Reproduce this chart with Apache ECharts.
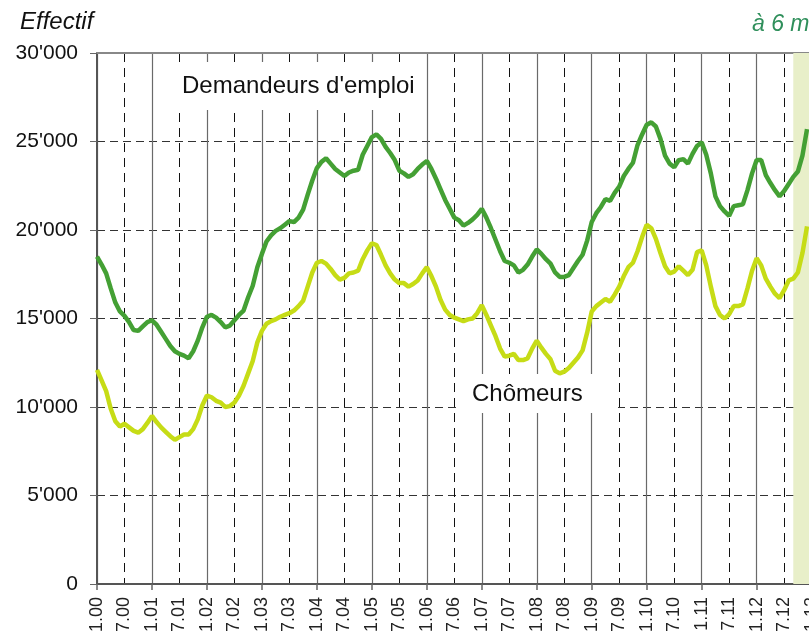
<!DOCTYPE html>
<html>
<head>
<meta charset="utf-8">
<script src="https://cdn.jsdelivr.net/npm/echarts@6/dist/echarts.min.js"></script>
<style>
    html, body { margin: 0; padding: 0; overflow: hidden; background: #fff; }
    .main { width: 900px; height: 700px; }
</style>
</head>
<body>
<div class="main"></div>
<script>
// années affichées sur l'axe (mois.année)
const years = ['00', '01', '02', '03', '04', '05', '06', '07', '08', '09', '10', '11', '12', '13'];
let months = [];
years.forEach(function (y) {
    for (let m = 1; m <= 12; m++) {
        months.push(m + '.' + y);
    }
});

// graduations de l'axe vertical
const yTicks = [0, 5000, 10000, 15000, 20000, 25000, 30000];

// Demandeurs d'emploi (1.00 -> 12.12)
const demandeurs = [
    18500, 18050, 17550, 16700, 15900, 15400, 15150, 14800, 14350, 14300, 14550, 14800,
    14900, 14650, 14250, 13850, 13450, 13150, 13000, 12900, 12750, 13150, 13750, 14500,
    15100, 15200, 15050, 14800, 14500, 14600, 14900, 15200, 15450, 16200, 16850, 17900,
    18650, 19350, 19700, 19950, 20100, 20300, 20500, 20450, 20700, 21150, 22000, 22800,
    23500, 23850, 24050, 23750, 23450, 23250, 23050, 23250, 23350, 23400, 24250, 24750,
    25250, 25400, 25150, 24700, 24350, 23950, 23350, 23200, 23000, 23150, 23450, 23700,
    23900, 23450, 22900, 22300, 21700, 21200, 20700, 20550, 20250, 20400, 20600, 20850,
    21200, 20700, 20100, 19450, 18800, 18250, 18150, 18000, 17600, 17750, 18050, 18500,
    18900, 18650, 18350, 18100, 17600, 17350, 17350, 17450, 17850, 18250, 18600, 19400,
    20450, 20950, 21300, 21750, 21650, 22100, 22450, 23050, 23450, 23800, 24800, 25400,
    25950, 26080, 25850, 25150, 24200, 23750, 23550, 23950, 24000, 23750, 24300, 24750,
    24950, 24250, 23200, 21900, 21350, 21050, 20800, 21350, 21400, 21450, 22250, 23200,
    23950, 23950, 23100, 22650, 22250, 21900, 22200, 22600, 23000, 23300, 24200, 25700
];

// Chômeurs (1.00 -> 12.12)
const chomeurs = [
    12100, 11500, 10900, 9900, 9200, 8900, 9050, 8850, 8650, 8550, 8750, 9100,
    9500, 9150, 8850, 8600, 8350, 8150, 8300, 8450, 8450, 8750, 9300, 10100,
    10650, 10550, 10350, 10250, 10000, 10050, 10250, 10650, 11200, 11900, 12600, 13650,
    14300, 14700, 14850, 14950, 15100, 15200, 15300, 15450, 15700, 16000, 16800, 17600,
    18150, 18250, 18100, 17800, 17450, 17200, 17300, 17550, 17600, 17700, 18350, 18850,
    19250, 19150, 18600, 18000, 17550, 17200, 17000, 17000, 16800, 16950, 17150, 17550,
    17900, 17400, 16800, 16050, 15500, 15200, 15050, 14950, 14850, 14950, 15000, 15300,
    15750, 15200, 14600, 14000, 13300, 12850, 12900, 13000, 12650, 12650, 12750, 13300,
    13750, 13350, 13000, 12700, 12050, 11900, 12000, 12200, 12500, 12800, 13200, 14200,
    15400, 15700, 15900, 16100, 15950, 16350, 16800, 17400, 17900, 18150, 18800, 19600,
    20300, 20100, 19500, 18700, 17950, 17550, 17650, 17950, 17700, 17450, 17750, 18750,
    18850, 18000, 16800, 15700, 15200, 15000, 15250, 15700, 15700, 15800, 16700, 17700,
    18400, 18000, 17250, 16800, 16400, 16150, 16600, 17150, 17250, 17600, 18700, 20200
];

// zone de prévision
const prevision = ['9.12', '12.13'];

const sans = "'Liberation Sans', Arial, sans-serif";

let chart = echarts.init(document.querySelector('.main'));

chart.setOption({
    animation: false,
    grid: {
        left: 97,
        top: 53,
        right: 38,
        bottom: 116
    },
    xAxis: [
        {
            type: 'category',
            data: months,
            boundaryGap: false,
            axisLine: { lineStyle: { color: '#555', width: 2 } },
            axisTick: {
                length: 6,
                interval: function (i) { return i % 12 === 0; },
                lineStyle: { color: '#666', width: 1.5 }
            },
            axisLabel: {
                interval: function (i) { return i % 6 === 0; },
                rotate: 90,
                margin: 13,
                color: '#222',
                fontSize: 18,
                fontFamily: sans
            },
            splitLine: {
                show: true,
                interval: function (i) { return i % 12 === 0; },
                lineStyle: { color: '#6a6a6a', width: 1.2 }
            }
        },
        {
            // axe du haut : bord du cadre + lignes de juillet
            type: 'category',
            data: months,
            boundaryGap: false,
            position: 'top',
            axisLine: { lineStyle: { color: '#888', width: 2 } },
            axisTick: { show: false },
            axisLabel: { show: false },
            splitLine: {
                show: true,
                interval: function (i) { return i % 12 === 6; },
                lineStyle: { color: '#111', width: 1, type: [9, 6] }
            }
        }
    ],
    yAxis: {
        type: 'value',
        min: yTicks[0],
        max: yTicks[yTicks.length - 1],
        interval: 5000,
        axisLine: { show: true, lineStyle: { color: '#555', width: 2 } },
        axisTick: { show: true, length: 7, lineStyle: { color: '#666' } },
        axisLabel: {
            margin: 19,
            color: '#111',
            fontSize: 21,
            fontFamily: sans,
            formatter: function (v) {
                return v === 0 ? '0' : String(v).replace(/(\d)(?=(\d{3})$)/, "$1'");
            }
        },
        splitLine: {
            lineStyle: { color: '#333', width: 1, type: [8, 5] }
        }
    },
    series: [
        {
            name: "Demandeurs d'emploi",
            type: 'line',
            data: demandeurs,
            symbol: 'none',
            lineStyle: { color: '#44a034', width: 4.5 },
            z: 4,
            markArea: {
                silent: true,
                itemStyle: { color: '#e8efc9' },
                data: [[{ xAxis: prevision[0] }, { xAxis: prevision[1] }]]
            }
        },
        {
            name: 'Chômeurs',
            type: 'line',
            data: chomeurs,
            symbol: 'none',
            lineStyle: { color: '#c6dc16', width: 4.5 },
            z: 3
        }
    ],
    graphic: [
        // fonds blancs derrière les libellés des courbes
        {
            type: 'rect', z: 1, shape: { x: 166, y: 62, width: 258, height: 48 },
            style: { fill: '#fff' }
        },
        {
            type: 'rect', z: 1, shape: { x: 458, y: 374, width: 160, height: 39 },
            style: { fill: '#fff' }
        },
        {
            type: 'text', left: 20, top: 10, z: 2,
            style: { text: 'Effectif', font: 'italic 24px ' + sans, fill: '#111' }
        },
        {
            type: 'text', left: 182, top: 74, z: 2,
            style: { text: "Demandeurs d'emploi", font: '24px ' + sans, fill: '#111' }
        },
        {
            type: 'text', left: 472, top: 382, z: 2,
            style: { text: 'Chômeurs', font: '24px ' + sans, fill: '#111' }
        },
        {
            type: 'text', left: 752, top: 13, z: 2,
            style: { text: 'à 6 mois', font: 'italic 23px ' + sans, fill: '#2f8f5b' }
        },
        {
            type: 'text', left: 735, top: -18, z: 2,
            style: { text: 'Prévision', font: 'italic 23px ' + sans, fill: '#2f8f5b' }
        }
    ]
});
</script>
</body>
</html>
